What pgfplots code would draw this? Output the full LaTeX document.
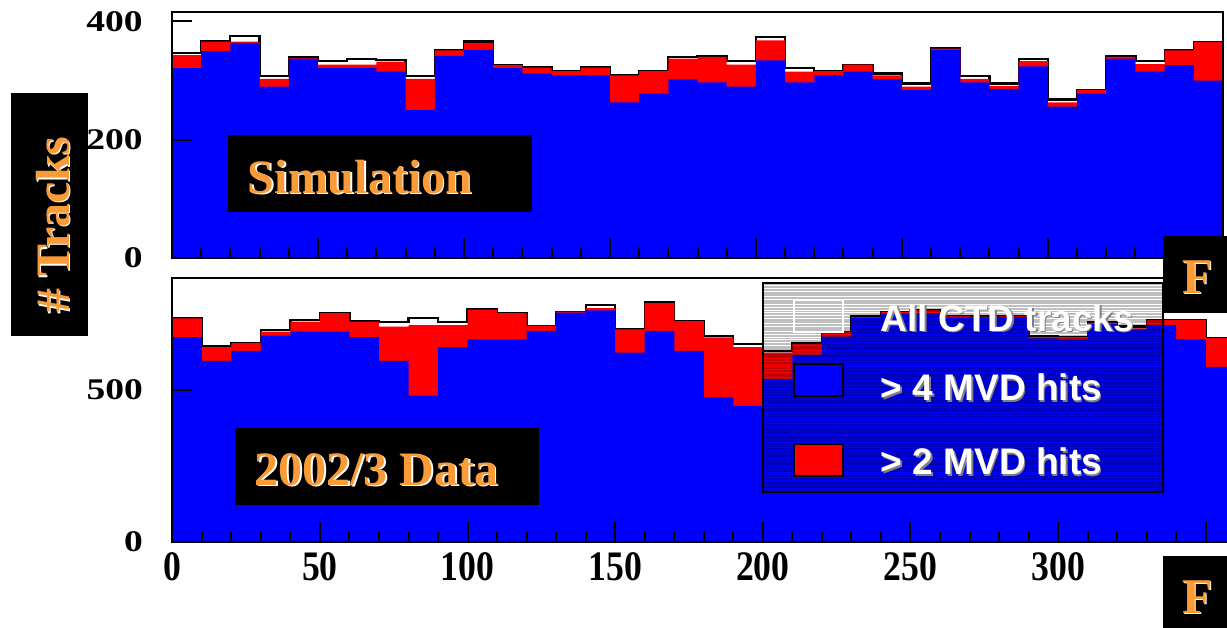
\documentclass[border=0pt]{standalone}
\usepackage{pgfplots}
\pgfplotsset{compat=1.18}
\usepackage{pgfplotstable}
\usepackage{graphicx}
\usepackage{fontspec}
\setmainfont{Liberation Serif}
\newfontfamily\arialfont{Liberation Sans}
\definecolor{rootblue}{RGB}{0,0,255}
\definecolor{rootred}{RGB}{255,0,0}
\definecolor{orangetxt}{RGB}{250,155,55}

\pgfplotstableread{
x all red blue
0 347 343 321
10 367 366 350
20 376 366 364
30 308 303 290
40 340 338 337
50 333 327 321
60 336 327 321
70 335 332 315
80 308 303 250
90 351 351 342
100 366 364 352
110 327 326 321
120 322 322 312
130 316 316 309
140 322 322 309
150 309 309 263
160 316 316 278
170 340 337 302
180 342 340 297
190 333 327 290
200 374 368 334
210 321 315 297
220 316 316 309
230 327 327 315
240 312 309 302
250 295 290 284
260 355 354 352
270 308 303 297
280 295 291 286
290 336 333 324
300 268 263 256
310 284 284 278
320 342 340 337
330 333 328 315
340 351 351 326
350 365 365 300
360 365 365 300
}\simdata

\pgfplotstableread{
x all red blue
0 737 736 674
10 645 641 596
20 655 654 629
30 698 692 679
40 731 725 692
50 753 753 692
60 726 725 674
70 725 709 596
80 738 714 481
90 725 714 641
100 766 765 667
110 753 753 667
120 712 712 695
130 758 758 755
140 780 770 762
150 700 700 623
160 791 786 695
170 728 727 629
180 678 673 476
190 652 641 448
200 629 623 535
210 654 652 616
220 692 692 676
230 742 740 737
240 758 758 751
250 764 762 752
260 744 744 737
270 742 742 738
280 744 744 740
290 678 674 670
300 674 674 667
310 725 722 718
320 709 703 698
330 731 731 714
340 731 731 667
350 671 671 576
360 671 671 576
}\realdata

\pgfplotsset{
  rootstyle/.style={
    scale only axis, axis on top,
    xmin=0, xmax=360,
    axis line style={line width=0.9pt},
    every tick/.style={line width=1pt, black},
    major tick length=10pt, minor tick length=5pt,
    tick align=inside,
    xtick pos=left, ytick pos=left,
    xtick={0,50,...,350},
    minor xtick={0,10,...,360},
    yticklabel style={font=\bfseries\fontsize{15pt}{15pt}\selectfont, anchor=east, inner sep=0pt, xshift=-14.5pt},
    xticklabel style={font=\bfseries\fontsize{21pt}{21pt}\selectfont, anchor=north, inner sep=0pt, yshift=-5pt},
  },
}

\begin{document}
\begin{tikzpicture}
\useasboundingbox (0,0) rectangle (613.5pt,-313.5pt);

% ---------- top panel: Simulation ----------
\begin{axis}[rootstyle,
  at={(86pt,-129pt)}, anchor=south west,
  width=525.5pt, height=123pt,
  ymin=0, ymax=416,
  ytick={0,200,400},
  yticklabels={\scalebox{1.25}[1]{0},\scalebox{1.25}[1]{200},\scalebox{1.25}[1]{400}},
  xticklabels={},
]
\addplot[const plot mark left, black, line width=1.1pt] table[x=x,y=all]{\simdata};
\addplot[const plot mark left, fill=rootred, draw=none] table[x=x,y=red]{\simdata} \closedcycle;
\addplot[const plot mark left, fill=rootblue, draw=none] table[x=x,y=blue]{\simdata} \closedcycle;
\end{axis}

% ---------- bottom panel: 2002/3 Data ----------
\begin{axis}[rootstyle,
  at={(86.15pt,-270.85pt)}, anchor=south west,
  width=531.5pt, height=131.7pt,
  ymin=0, ymax=868,
  ytick={0,500},
  yticklabels={\scalebox{1.25}[1]{0},\scalebox{1.25}[1]{500}},
  xticklabels={\scalebox{0.85}[1]{0},\scalebox{0.85}[1]{50},\scalebox{0.85}[1]{100},\scalebox{0.85}[1]{150},\scalebox{0.85}[1]{200},\scalebox{0.85}[1]{250},\scalebox{0.85}[1]{300},{}},
]
\addplot[const plot mark left, black, line width=1.1pt] table[x=x,y=all]{\realdata};
\addplot[const plot mark left, fill=rootred, draw=none] table[x=x,y=red]{\realdata} \closedcycle;
\addplot[const plot mark left, fill=rootblue, draw=none] table[x=x,y=blue]{\realdata} \closedcycle;
\end{axis}

\begin{scope}[x=0.5pt,y=-0.5pt]
  % legend with striped semi-transparent background
  \begin{scope}
    \clip (763,283.3) rectangle (1163.3,491.7);
    \foreach \i in {0,...,78} {
      \draw[black, opacity=0.25, line width=0.95pt] (760,{284.5+2.7*\i}) -- (1166,{284.5+2.7*\i});
    }
  \end{scope}
  \draw[black, line width=1pt] (763,283.3) rectangle (1163.3,491.7);
  \draw[white, line width=1pt] (794.3,300) rectangle (843.3,332.3);
  \draw[black, fill=rootblue, line width=1pt] (794.3,364) rectangle (843.3,396);
  \draw[black, fill=rootred, line width=1pt] (794.3,444) rectangle (843.3,476);
  \foreach \yy/\txt in {331/{All CTD tracks}, 400.5/{> 4 MVD hits}, 474.5/{> 2 MVD hits}} {
    \node[anchor=base west, inner sep=0pt, text=gray] at (882,\yy+1.5) {\arialfont\bfseries\fontsize{18.5pt}{18.5pt}\selectfont \txt};
    \node[anchor=base west, inner sep=0pt, text=white] at (880.5,\yy) {\arialfont\bfseries\fontsize{18.5pt}{18.5pt}\selectfont \txt};
  }

  % Simulation label
  \fill[black] (228.3,135) rectangle (531.7,211.7);
  \node[anchor=base, inner sep=0pt, text=white] at (361.5,194.5) {\bfseries\fontsize{24pt}{24pt}\selectfont Simulation};
  \node[anchor=base, inner sep=0pt, text=orangetxt] at (360,193) {\bfseries\fontsize{24pt}{24pt}\selectfont Simulation};

  % 2002/3 Data label
  \fill[black] (235,427.7) rectangle (539,505);
  \node[anchor=base, inner sep=0pt, text=white] at (378,486.5) {\bfseries\fontsize{24pt}{24pt}\selectfont 2002/3 Data};
  \node[anchor=base, inner sep=0pt, text=orangetxt] at (376.5,485) {\bfseries\fontsize{24pt}{24pt}\selectfont 2002/3 Data};

  % # Tracks label
  \fill[black] (11,93) rectangle (88,336);
  \node[anchor=base, rotate=90, inner sep=0pt, text=white] at (70.5,226.2) {\bfseries\fontsize{24pt}{24pt}\selectfont \# Tracks};
  \node[anchor=base, rotate=90, inner sep=0pt, text=orangetxt] at (69,224.7) {\bfseries\fontsize{24pt}{24pt}\selectfont \# Tracks};

  % F logos
  \fill[black] (1163,236) rectangle (1232,313);
  \node[anchor=base, inner sep=0pt, text=white] at (1199,294.5) {\bfseries\fontsize{25pt}{25pt}\selectfont F};
  \node[anchor=base, inner sep=0pt, text=orangetxt] at (1197.5,293) {\bfseries\fontsize{25pt}{25pt}\selectfont F};
  \fill[black] (1163,556) rectangle (1232,632);
  \node[anchor=base, inner sep=0pt, text=white] at (1199,614.5) {\bfseries\fontsize{25pt}{25pt}\selectfont F};
  \node[anchor=base, inner sep=0pt, text=orangetxt] at (1197.5,613) {\bfseries\fontsize{25pt}{25pt}\selectfont F};
\end{scope}
\end{tikzpicture}
\end{document}
